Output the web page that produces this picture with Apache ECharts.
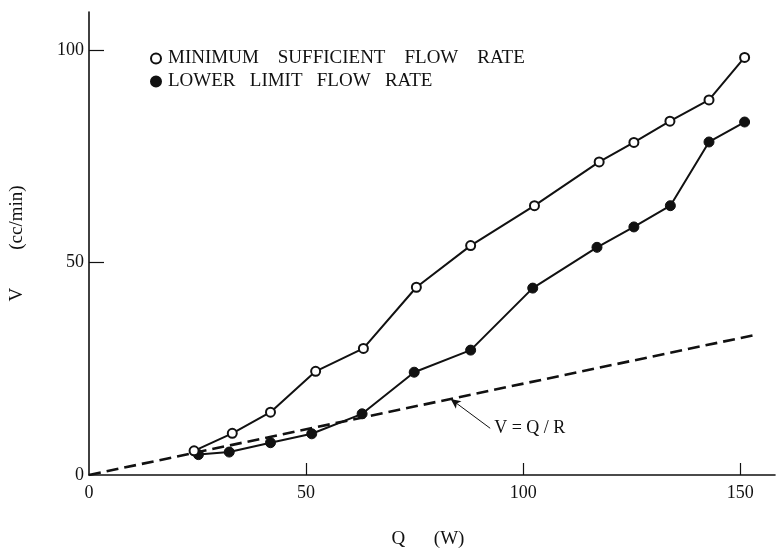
<!DOCTYPE html>
<html>
<head>
<meta charset="utf-8">
<script src="https://cdn.jsdelivr.net/npm/echarts@6/dist/echarts.min.js"></script>
<style>
  html, body { margin: 0; padding: 0; background: #fff; }
  #main { width: 776px; height: 554px; }
</style>
</head>
<body>
<div id="main"></div>
<script>
  // minimum sufficient flow rate (open circles)
  var qMin = [24.2, 33, 41.8, 52.2, 63.2, 75.4, 87.9, 102.6, 117.5, 125.5, 133.8, 142.8, 151];
  var vMin = [5.7, 9.8, 14.8, 24.4, 29.8, 44.2, 54.0, 63.4, 73.7, 78.3, 83.3, 88.3, 98.3];
  // lower limit flow rate (filled circles)
  var qLow = [25.2, 32.3, 41.8, 51.3, 62.9, 74.9, 87.9, 102.2, 117, 125.5, 133.9, 142.8, 151];
  var vLow = [4.8, 5.4, 7.6, 9.7, 14.4, 24.2, 29.4, 44.0, 53.6, 58.4, 63.4, 78.4, 83.1];
  // V = Q/R reference line
  var qRef = [0, 153.5];
  var vRef = [0, 33.0];
  // arrow for the annotation: tail -> tip on the dashed line
  var arrowTail = [92.4, 11.0];
  var arrowTip = [83.3, 17.9];
  var xTicks = [0, 50, 100, 150];
  var yTicks = [0, 50, 100];

  var FONT = '"Liberation Serif", "Times New Roman", serif';
  var INK = '#111';
  var NAME_MIN = 'MINIMUM    SUFFICIENT    FLOW    RATE';
  var NAME_LOW = 'LOWER   LIMIT   FLOW   RATE';

  function pairs(xs, ys) {
    var out = [];
    for (var i = 0; i < xs.length; i++) {
      out.push([xs[i], ys[i]]);
    }
    return out;
  }

  var myChart = echarts.init(document.getElementById('main'));
  var option = {
    backgroundColor: '#fff',
    animation: false,
    grid: { left: 86, right: 1, top: 12, bottom: 63, containLabel: false },
    legend: {
      orient: 'vertical',
      left: 145,
      top: 44,
      itemWidth: 10,
      itemHeight: 10,
      itemGap: 4,
      icon: 'circle',
      textStyle: { fontFamily: FONT, fontSize: 19, color: INK, lineHeight: 18, padding: [0, 0, 0, 2] },
      data: [NAME_MIN, NAME_LOW]
    },
    xAxis: {
      type: 'value',
      min: 0,
      max: 158,
      interval: 50,
      name: 'Q      (W)',
      nameLocation: 'middle',
      nameGap: 55,
      nameTextStyle: { fontFamily: FONT, fontSize: 19, color: INK, padding: [0, 8, 0, 0] },
      axisLine: { lineStyle: { color: INK, width: 1.6 } },
      axisTick: { inside: true, length: 12, customValues: [50, 100, 150], lineStyle: { color: INK, width: 1.2 } },
      axisLabel: { customValues: xTicks, fontFamily: FONT, fontSize: 18, color: INK, margin: 9 },
      splitLine: { show: false }
    },
    yAxis: {
      type: 'value',
      min: 0,
      max: 109,
      interval: 50,
      name: 'V        (cc/min)',
      nameLocation: 'middle',
      nameGap: 62,
      nameRotate: 90,
      nameTextStyle: { fontFamily: FONT, fontSize: 19, color: INK },
      axisLine: { lineStyle: { color: INK, width: 1.6 } },
      axisTick: { inside: true, length: 15, customValues: [50, 100], lineStyle: { color: INK, width: 1.2 } },
      axisLabel: { customValues: yTicks, fontFamily: FONT, fontSize: 18, color: INK, margin: 5 },
      splitLine: { show: false }
    },
    series: [
      {
        name: 'V=Q/R',
        type: 'line',
        data: pairs(qRef, vRef),
        showSymbol: false,
        silent: true,
        lineStyle: { color: INK, width: 2.6, type: [12, 6] },
        markLine: {
          silent: true,
          symbol: ['none', 'arrow'],
          symbolSize: [7, 10],
          lineStyle: { color: INK, width: 1, type: 'solid' },
          label: { show: false },
          data: [[{ coord: arrowTail }, { coord: arrowTip }]]
        },
        markPoint: {
          silent: true,
          symbol: 'circle',
          symbolSize: 0,
          label: {
            show: true,
            position: 'right',
            distance: 4,
            formatter: 'V = Q / R',
            fontFamily: FONT,
            fontSize: 18,
            color: INK
          },
          data: [{ coord: arrowTail }]
        }
      },
      {
        name: NAME_LOW,
        type: 'line',
        data: pairs(qLow, vLow),
        symbol: 'circle',
        symbolSize: 10,
        lineStyle: { color: INK, width: 2 },
        itemStyle: { color: INK, borderColor: INK, borderWidth: 1 }
      },
      {
        name: NAME_MIN,
        type: 'line',
        data: pairs(qMin, vMin),
        symbol: 'circle',
        symbolSize: 9,
        lineStyle: { color: INK, width: 2 },
        itemStyle: { color: '#fff', borderColor: INK, borderWidth: 2 }
      }
    ]
  };
  myChart.setOption(option);
</script>
</body>
</html>
